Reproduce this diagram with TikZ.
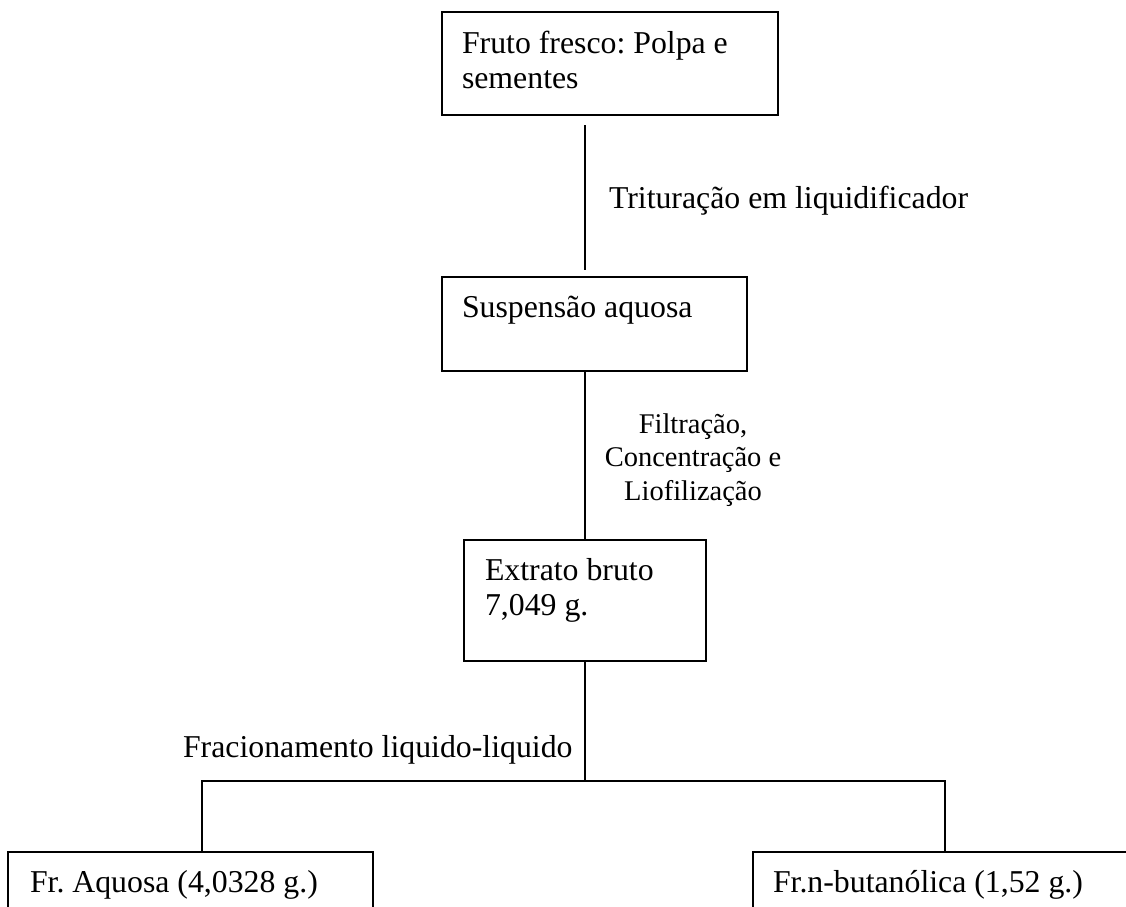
\documentclass[tikz,border=0pt]{standalone}
\usepackage{fontspec}
\setmainfont{Liberation Serif}
\frenchspacing
\newcommand{\firstL}[1]{\begin{tabular}[t]{@{}l@{}}#1\end{tabular}}
\newcommand{\firstC}[1]{\begin{tabular}[t]{@{}c@{}}#1\end{tabular}}
\begin{document}
\begin{tikzpicture}[x=1pt,y=-1pt,
  boxstyle/.style={draw=black, line width=2.8pt, rectangle, anchor=north west, inner sep=0pt, outer sep=0pt},
  txt/.style={anchor=base west, inner sep=0pt, outer sep=0pt, font=\fontsize{31.8}{35.5}\selectfont},
  small/.style={anchor=base, inner sep=0pt, outer sep=0pt, font=\fontsize{28.5}{33.5}\selectfont},
  conn/.style={draw=black, line width=2.8pt}]
\useasboundingbox (0,0) rectangle (1126,906);
\clip (0,0) rectangle (1126,906);
\fill[white] (0,0) rectangle (1126,906);

% boxes
\node[boxstyle, minimum width=336pt, minimum height=103pt] (fruto) at (442,12) {};
\node[boxstyle, minimum width=305pt, minimum height=94pt] (susp) at (442,277) {};
\node[boxstyle, minimum width=242pt, minimum height=121pt] (extr) at (464,540) {};
\node[boxstyle, minimum width=365pt, minimum height=90pt] (aq) at (8,852) {};
\node[boxstyle, minimum width=400pt, minimum height=90pt] (but) at (753,852) {};

% box texts
\node[txt] (tfruto) at (462,53) {\firstL{Fruto fresco: Polpa e\\sementes}};
\node[txt] (tsusp) at (462,317) {Suspensão aquosa};
\node[txt] (textr) at (485,580) {\firstL{Extrato bruto\\7,049 g.}};
\node[txt] (taq) at (30,892) {Fr. Aquosa (4,0328 g.)};
\node[txt] (tbut) at (773,892) {Fr.n-butanólica (1,52 g.)};

% connector labels
\node[txt] (ltrit) at (609,208) {Trituração em liquidificador};
\node[small] (lfilt) at (693,433) {\firstC{Filtração,\\Concentração e\\Liofilização}};
\node[txt] (lfrac) at (183,757) {Fracionamento liquido-liquido};

% guide coordinates
\coordinate (spine) at (585,0);
\coordinate (la) at (202,0);
\coordinate (ra) at (945,0);
\coordinate (split) at (585,781);

% connectors
\draw[conn, shorten <=10pt, shorten >=7pt] (fruto.south -| spine) -- (susp.north -| spine);
\draw[conn] (susp.south -| spine) -- (extr.north -| spine);
\draw[conn] (extr.south -| spine) -- (split);
\draw[conn] (aq.north -| la) -- (split -| la) -- (split -| ra) -- (but.north -| ra);
\end{tikzpicture}
\end{document}
